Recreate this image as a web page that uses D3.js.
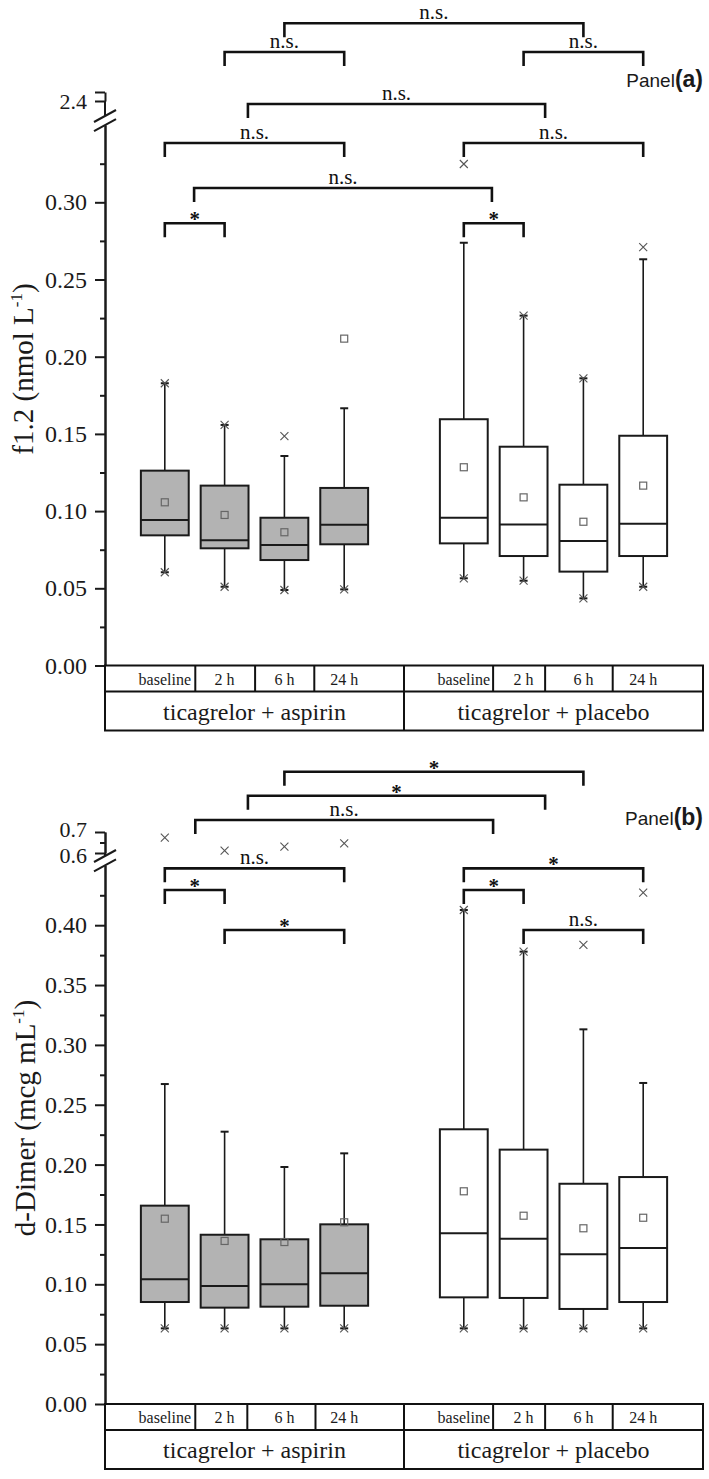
<!DOCTYPE html>
<html><head><meta charset="utf-8">
<script src="https://cdn.jsdelivr.net/npm/d3@7"></script>
<style>body{margin:0;background:#fff} svg{display:block} .serif{font-family:"Liberation Serif","Times New Roman",serif}</style>
</head><body>
<svg id="chart" width="709" height="1479"></svg>
<script>
// ---------- categories ----------
const timepoints = ["baseline", "2 h", "6 h", "24 h"];
const groups = ["ticagrelor + aspirin", "ticagrelor + placebo"];

// ---------- Panel (a): f1.2 (nmol/L) ----------
const f12Q1      = [0.0843, 0.0759, 0.0683, 0.0785, 0.0791, 0.0709, 0.0608, 0.0709];
const f12Median  = [0.0942, 0.0811, 0.0780, 0.0912, 0.0957, 0.0914, 0.0806, 0.0918];
const f12Q3      = [0.1262, 0.1165, 0.0957, 0.1150, 0.1595, 0.1417, 0.1171, 0.1488];
const f12Mean    = [0.1057, 0.0975, 0.0863, 0.2117, 0.1284, 0.1089, 0.0931, 0.1165];
const f12WhiskLo = [0.0604, 0.0510, 0.0489, 0.0493, 0.0565, 0.0549, 0.0435, 0.0510];
const f12WhiskHi = [0.1828, 0.1558, 0.1357, 0.1666, 0.2738, 0.2266, 0.1860, 0.2631];
const f12Min     = [0.0604, 0.0510, 0.0489, 0.0493, 0.0565, 0.0549, 0.0435, 0.0510];
const f12Max     = [0.1828, 0.1558, 0.1486, null,   0.3248, 0.2266, 0.1860, 0.2710];
const f12TicksLower = [0, 0.05, 0.10, 0.15, 0.20, 0.25, 0.30];
const f12TicksUpper = [2.4, 2.5];
const f12BrFrom  = [3, 2, 7, 2.39, 1, 6, 1.49, 1, 6];
const f12BrTo    = [8, 4, 9, 7.36, 4, 9, 6.47, 2, 7];
const f12BrLevel = [0.4160, 0.3973, 0.3973, 0.3637, 0.3384, 0.3384, 0.3093, 0.2864, 0.2864];
const f12BrLabel = ["n.s.", "n.s.", "n.s.", "n.s.", "n.s.", "n.s.", "n.s.", "*", "*"];
const f12Dividers = [1.51, 2.51, 3.5, 6.49, 7.36, 8.49];

// ---------- Panel (b): d-Dimer (mcg/mL) ----------
const ddQ1      = [0.0852, 0.0805, 0.0813, 0.0821, 0.0891, 0.0886, 0.0794, 0.0852];
const ddMedian  = [0.1042, 0.0986, 0.1000, 0.1092, 0.1426, 0.1381, 0.1251, 0.1303];
const ddQ3      = [0.1657, 0.1414, 0.1376, 0.1501, 0.2295, 0.2125, 0.1840, 0.1896];
const ddMean    = [0.1548, 0.1362, 0.1353, 0.1518, 0.1777, 0.1573, 0.1468, 0.1556];
const ddWhiskLo = [0.0632, 0.0632, 0.0632, 0.0632, 0.0632, 0.0632, 0.0632, 0.0632];
const ddWhiskHi = [0.2673, 0.2275, 0.1980, 0.2094, 0.4127, 0.3779, 0.3130, 0.2682];
const ddMin     = [0.0632, 0.0632, 0.0632, 0.0632, 0.0632, 0.0632, 0.0632, 0.0632];
const ddMax     = [0.673, 0.611, 0.630, 0.646, 0.4127, 0.3779, 0.3835, 0.4272];
const ddTicksLower = [0, 0.05, 0.10, 0.15, 0.20, 0.25, 0.30, 0.35, 0.40];
const ddTicksUpper = [0.6, 0.7];
const ddBrFrom  = [3, 2.39, 1.51, 1, 1, 2, 6, 6, 7];
const ddBrTo    = [8, 7.36, 6.49, 4, 2, 4, 9, 7, 9];
const ddBrLevel = [0.5282, 0.5082, 0.4879, 0.4475, 0.4294, 0.3960, 0.4475, 0.4294, 0.3960];
const ddBrLabel = ["*", "*", "n.s.", "n.s.", "*", "*", "*", "*", "n.s."];
const ddDividers = [1.51, 2.38, 3.52, 6.49, 7.36, 8.49];

// ---------- drawing ----------
const svg = d3.select("#chart");
svg.append("rect").attr("width", 709).attr("height", 1479).attr("fill", "#fff");
const SERIF = '"Liberation Serif","Times New Roman",serif';
const SANS = '"Liberation Sans",Arial,sans-serif';
const INK = "#1a1a1a";

const x = d3.scaleLinear().domain([0, 10]).range([105, 703]);
const catPos = (gi, ti) => gi * 5 + ti + 1;

function serifText(sel) { return sel.attr("class", "serif").style("font-family", SERIF); }

function drawPanel(p) {
  const g = svg.append("g");
  const yLow = d3.scaleLinear().domain([0, p.lowMax]).range([p.y0, p.lowTopY]);
  const yUp = d3.scaleLinear().domain(p.upDomain).range(p.upRange);
  const Y = v => v > p.lowMax ? yUp(v) : yLow(v);

  const minorLow = d3.range(0, Math.round(p.lowMax / 0.025)).map(i => i * 0.025)
      .filter(v => !p.ticksLower.some(t => Math.abs(t - v) < 1e-6));
  g.append("g").attr("transform", "translate(105,0)")
    .call(d3.axisLeft(yLow).tickValues(minorLow).tickSize(5).tickSizeOuter(0).tickFormat(""));
  g.append("g").attr("transform", "translate(105,0)")
    .call(d3.axisLeft(yLow).tickValues(p.ticksLower).tickSize(10).tickSizeOuter(0)
      .tickPadding(8).tickFormat(d3.format(".2f")));

  const axUp = g.append("g").attr("transform", "translate(105,0)")
    .call(d3.axisLeft(yUp).tickValues(p.ticksUpper).tickSize(10).tickSizeOuter(0)
      .tickPadding(8).tickFormat(p.upFormat));
  axUp.selectAll(".tick text").attr("dy", (d, k) => (p.upShift[k] + 0.32) + "em");
  if (p.upMinor.length) {
    g.append("g").attr("transform", "translate(105,0)")
      .call(d3.axisLeft(yUp).tickValues(p.upMinor).tickSize(5).tickSizeOuter(0).tickFormat(""));
  }
  g.selectAll(".domain").attr("stroke", INK).attr("stroke-width", 2);
  g.selectAll(".tick line").attr("stroke", INK).attr("stroke-width", 2);
  g.selectAll(".tick text").attr("class", "serif").style("font-family", SERIF)
    .style("font-size", "24px").attr("fill", INK);
  axUp.selectAll(".tick text").style("font-size", "22px");
  g.append("line").attr("x1", 105).attr("x2", 105)
    .attr("y1", p.upRange[0]).attr("y2", p.upEnd)
    .attr("stroke", INK).attr("stroke-width", 2);
  [p.upEnd, p.lowTopY].forEach(yc => {
    g.append("line").attr("x1", 94).attr("y1", yc + 6).attr("x2", 116).attr("y2", yc - 6)
      .attr("stroke", INK).attr("stroke-width", 2);
  });

  const tt = serifText(g.append("text"))
    .attr("transform", `translate(${p.titleX},${p.titleY}) rotate(-90)`)
    .attr("text-anchor", "middle").style("font-size", "29px").attr("fill", INK);
  tt.append("tspan").text(p.title);
  tt.append("tspan").style("font-size", "17px").attr("dy", -11).text("-1");
  tt.append("tspan").attr("dy", 11).text(")");

  const bw = x(0.8) - x(0);
  for (let gi = 0; gi < 2; gi++) {
    for (let ti = 0; ti < 4; ti++) {
      const i = gi * 4 + ti;
      const cx = x(catPos(gi, ti));
      const fill = gi === 0 ? "#b3b3b3" : "#ffffff";
      g.append("line").attr("x1", cx).attr("x2", cx).attr("y1", Y(p.q3[i])).attr("y2", Y(p.whHi[i]))
        .attr("stroke", INK).attr("stroke-width", 1.6);
      g.append("line").attr("x1", cx).attr("x2", cx).attr("y1", Y(p.q1[i])).attr("y2", Y(p.whLo[i]))
        .attr("stroke", INK).attr("stroke-width", 1.6);
      [p.whHi[i], p.whLo[i]].forEach(v => {
        g.append("line").attr("x1", cx - 4).attr("x2", cx + 4).attr("y1", Y(v)).attr("y2", Y(v))
          .attr("stroke", INK).attr("stroke-width", 2);
      });
      g.append("rect").attr("x", cx - bw / 2).attr("width", bw)
        .attr("y", Y(p.q3[i])).attr("height", Y(p.q1[i]) - Y(p.q3[i]))
        .attr("fill", fill).attr("stroke", INK).attr("stroke-width", 2);
      g.append("line").attr("x1", cx - bw / 2).attr("x2", cx + bw / 2)
        .attr("y1", Y(p.med[i])).attr("y2", Y(p.med[i])).attr("stroke", INK).attr("stroke-width", 2);
      g.append("rect").attr("x", cx - 3.5).attr("y", Y(p.mean[i]) - 3.5).attr("width", 7).attr("height", 7)
        .attr("fill", "none").attr("stroke", "#666").attr("stroke-width", 1.2);
      [p.min[i], p.max[i]].forEach(v => {
        if (v === null) return;
        const yy = Y(v);
        g.append("path").attr("d", `M${cx - 4},${yy - 4}L${cx + 4},${yy + 4}M${cx - 4},${yy + 4}L${cx + 4},${yy - 4}`)
          .attr("stroke", "#555").attr("stroke-width", 1.1).attr("fill", "none");
      });
    }
  }

  p.brFrom.forEach((f, k) => {
    const x1 = x(f), x2 = x(p.brTo[k]), yy = yLow(p.brLevel[k]);
    g.append("path").attr("d", `M${x1},${yy + 14}V${yy}H${x2}V${yy + 14}`)
      .attr("fill", "none").attr("stroke", "#111").attr("stroke-width", 2.6);
    const lab = p.brLabel[k];
    const isStar = lab === "*";
    serifText(g.append("text")).attr("x", (x1 + x2) / 2).attr("y", isStar ? yy + 3 : yy - 4)
      .attr("text-anchor", "middle")
      .style("font-size", "21px").style("font-weight", isStar ? "bold" : "normal")
      .attr("fill", "#111").text(lab);
  });

  const t0 = p.y0, t1 = p.y0 + 26, t2 = p.y0 + 65;
  const tl = "#111";
  g.append("rect").attr("x", x(0)).attr("y", t0).attr("width", x(10) - x(0)).attr("height", t2 - t0)
    .attr("fill", "none").attr("stroke", tl).attr("stroke-width", 2);
  g.append("line").attr("x1", x(0)).attr("x2", x(10)).attr("y1", t1).attr("y2", t1)
    .attr("stroke", tl).attr("stroke-width", 2);
  g.append("line").attr("x1", x(5)).attr("x2", x(5)).attr("y1", t0).attr("y2", t2)
    .attr("stroke", tl).attr("stroke-width", 2);
  p.dividers.forEach(d => {
    g.append("line").attr("x1", x(d)).attr("x2", x(d)).attr("y1", t0).attr("y2", t1)
      .attr("stroke", tl).attr("stroke-width", 2);
  });
  for (let gi = 0; gi < 2; gi++) {
    timepoints.forEach((tp, ti) => {
      serifText(g.append("text")).attr("x", x(catPos(gi, ti))).attr("y", t0 + 19)
        .attr("text-anchor", "middle").style("font-size", "16px")
        .attr("fill", INK).text(tp);
    });
    serifText(g.append("text")).attr("x", x(gi * 5 + 2.5)).attr("y", t1 + 28)
      .attr("text-anchor", "middle").style("font-size", "24px")
      .attr("fill", INK).text(groups[gi]);
  }

  const pl = g.append("text").attr("x", 703).attr("y", p.panelY).attr("text-anchor", "end").attr("fill", INK)
    .style("font-family", SANS);
  pl.append("tspan").style("font-size", "19px").text("Panel");
  pl.append("tspan").style("font-size", "23px").style("font-weight", "bold").text(p.panelTag);
}

drawPanel({
  y0: 665.5, lowMax: 0.35, lowTopY: 665.5 - 0.35 * 1544,
  upDomain: [2.4, 2.5], upRange: [101, 92], upEnd: 116,
  ticksLower: f12TicksLower, ticksUpper: f12TicksUpper, upMinor: [], upShift: [0, 0],
  upFormat: d => (Math.abs(d - 2.4) < 1e-6 ? "2.4" : ""),
  q1: f12Q1, med: f12Median, q3: f12Q3, mean: f12Mean, whLo: f12WhiskLo, whHi: f12WhiskHi,
  min: f12Min, max: f12Max,
  brFrom: f12BrFrom, brTo: f12BrTo, brLevel: f12BrLevel, brLabel: f12BrLabel,
  dividers: f12Dividers,
  title: "f1.2 (nmol L", titleX: 33, titleY: 369,
  panelY: 87, panelTag: "(a)"
});

drawPanel({
  y0: 1404, lowMax: 0.45, lowTopY: 1404 - 0.45 * 1197,
  upDomain: [0.6, 0.7], upRange: [853, 832], upEnd: 856,
  ticksLower: ddTicksLower, ticksUpper: ddTicksUpper, upMinor: [0.65], upShift: [0.12, -0.1],
  upFormat: d3.format(".1f"),
  q1: ddQ1, med: ddMedian, q3: ddQ3, mean: ddMean, whLo: ddWhiskLo, whHi: ddWhiskHi,
  min: ddMin, max: ddMax,
  brFrom: ddBrFrom, brTo: ddBrTo, brLevel: ddBrLevel, brLabel: ddBrLabel,
  dividers: ddDividers,
  title: "d-Dimer (mcg mL", titleX: 35, titleY: 1118,
  panelY: 825, panelTag: "(b)"
});
</script>
</body></html>
